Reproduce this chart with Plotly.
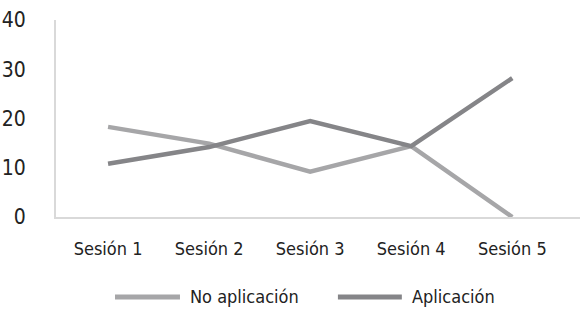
import plotly.graph_objects as go

sesiones = ["Sesión 1", "Sesión 2", "Sesión 3", "Sesión 4", "Sesión 5"]
no_aplicacion = [18.3, 14.9, 9.2, 14.4, 0]
aplicacion = [10.8, 14.2, 19.5, 14.4, 28.2]
y_ticks = [0, 10, 20, 30, 40]
series_names = ["No aplicación", "Aplicación"]
series_colors = ["#a6a6a8", "#858588"]

FONT = "Liberation Sans Narrow, DejaVu Sans Condensed, Open Sans, sans-serif"

fig = go.Figure()
for name, vals, col in zip(series_names, [no_aplicacion, aplicacion], series_colors):
    fig.add_trace(go.Scatter(x=sesiones, y=vals, mode="lines", name=name,
                             line=dict(color=col, width=4.5), showlegend=False))

# Custom legend (long line samples as in the reference)
legend_y = -0.406
sample_x = [(0.1126, 0.2366), (0.538, 0.660)]
text_x = [0.2519, 0.6756]
for (x0, x1), tx, name, col in zip(sample_x, text_x, series_names, series_colors):
    fig.add_shape(type="line", xref="paper", yref="paper", x0=x0, x1=x1,
                  y0=legend_y, y1=legend_y, line=dict(color=col, width=5))
    fig.add_annotation(xref="paper", yref="paper", x=tx, y=legend_y, text=name,
                       showarrow=False, xanchor="left", yanchor="middle",
                       font=dict(size=18, color="#222222"))

fig.update_layout(
    width=580, height=320,
    margin=dict(l=56, r=0, t=20, b=103),
    plot_bgcolor="white", paper_bgcolor="white",
    font=dict(family=FONT, size=18, color="#222222"),
    xaxis=dict(type="category", range=[-0.515, 4.67], showgrid=False,
               showline=True, linecolor="#d9d9d9", linewidth=2,
               ticks="", ticklabelstandoff=14, tickfont=dict(size=18)),
    yaxis=dict(range=[0, 40], tickvals=y_ticks, showgrid=False, zeroline=False,
               showline=True, linecolor="#d9d9d9", linewidth=2,
               ticks="", ticklabelstandoff=24, tickfont=dict(size=21)),
)

fig.write_html("out.html")
